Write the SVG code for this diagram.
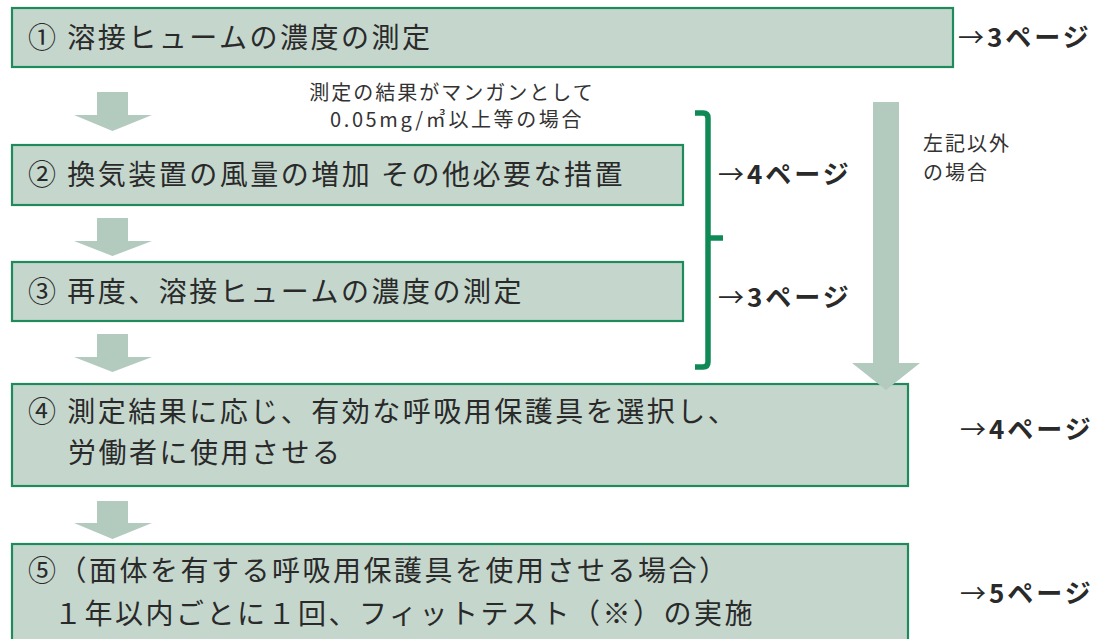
<svg xmlns="http://www.w3.org/2000/svg" width="1097" height="639" viewBox="0 0 1097 639">
  <defs>
    <style>
      .box { fill: #c5d7cd; stroke: #1f8a5c; stroke-width: 2.2; }
      .arr { fill: #b3cabe; }
      .t { font-family: "Noto Sans CJK JP", "Noto Sans", sans-serif; font-size: 28px; letter-spacing: 2.5px; fill: #2a2a2a; }
      .s { font-family: "Noto Sans CJK JP", "Noto Sans", sans-serif; font-size: 20px; letter-spacing: 2px; fill: #333333; }
      .pg { font-family: "Noto Sans CJK JP", "Noto Sans", sans-serif; font-size: 26px; font-weight: 700; letter-spacing: 3px; fill: #2a2a2a; }
      .pg .a { font-weight: 400; }
      .br { fill: none; stroke: #0f8a55; stroke-width: 5.5; stroke-linecap: butt; stroke-linejoin: round; }
    </style>
  </defs>
  <rect width="1097" height="639" fill="#ffffff"/>

  <g id="node1">
    <rect class="box" x="12" y="8" width="941" height="59"/>
    <text class="t" x="28" y="48">① 溶接ヒュームの濃度の測定</text>
  </g>
  <g id="node2">
    <rect class="box" x="12" y="145" width="671" height="60"/>
    <text class="t" x="28" y="185">② 換気装置の風量の増加 その他必要な措置</text>
  </g>
  <g id="node3">
    <rect class="box" x="12" y="262" width="671" height="59"/>
    <text class="t" x="28" y="302">③ 再度、溶接ヒュームの濃度の測定</text>
  </g>
  <g id="node4">
    <rect class="box" x="12" y="384" width="896" height="102"/>
    <text class="t" x="28" y="422">④ 測定結果に応じ、有効な呼吸用保護具を選択し、</text>
    <text class="t" x="68" y="463">労働者に使用させる</text>
  </g>
  <g id="node5">
    <rect class="box" x="12" y="544" width="896" height="110"/>
    <text class="t" x="28" y="581">⑤（面体を有する呼吸用保護具を使用させる場合）</text>
    <text class="t" x="54" y="624">１年以内ごとに１回、フィットテスト（※）の実施</text>
  </g>

  <g id="connectors">
    <polygon class="arr" points="97,92 128,92 128,115 152,115 112.5,131 74,115 97,115"/>
    <polygon class="arr" points="97,218 128,218 128,241 152,241 112.5,256 74,241 97,241"/>
    <polygon class="arr" points="97,334 128,334 128,357 152,357 112.5,372 74,357 97,357"/>
    <polygon class="arr" points="97,501 128,501 128,523 152,523 112.5,539 74,523 97,523"/>
    <polygon class="arr" points="873,102 899,102 899,363 920,363 886,390 852,363 873,363"/>
    <path class="br" d="M695,113 H703 Q708,113 708,118 V362 Q708,367 703,367 H695"/>
    <path class="br" d="M708,238 H723"/>
  </g>

  <g id="labels">
    <text class="s" x="452" y="100" text-anchor="middle">測定の結果がマンガンとして</text>
    <text class="s" x="457" y="127" text-anchor="middle" style="letter-spacing:2.6px">0.05mg/㎥以上等の場合</text>
    <text class="s" x="923" y="151">左記以外</text>
    <text class="s" x="923" y="180">の場合</text>
    <text class="pg" x="958" y="47"><tspan class="a">→</tspan>3ページ</text>
    <text class="pg" x="718" y="184"><tspan class="a">→</tspan>4ページ</text>
    <text class="pg" x="718" y="307"><tspan class="a">→</tspan>3ページ</text>
    <text class="pg" x="960" y="439"><tspan class="a">→</tspan>4ページ</text>
    <text class="pg" x="960" y="603"><tspan class="a">→</tspan>5ページ</text>
  </g>
</svg>
